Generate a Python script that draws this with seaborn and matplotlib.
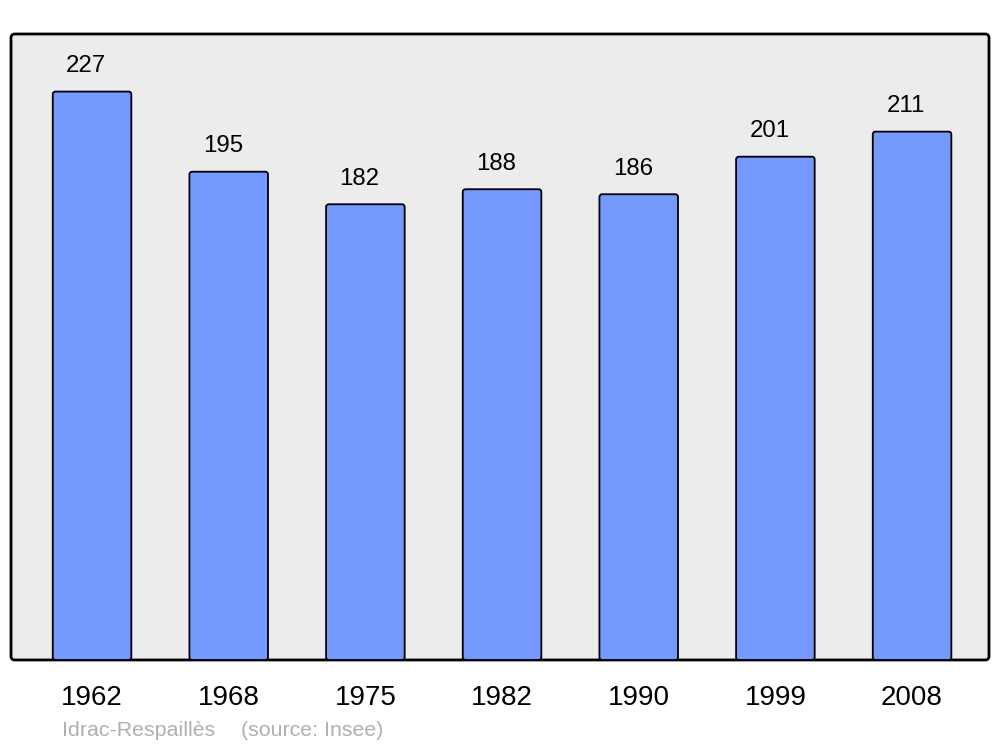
import matplotlib
matplotlib.use("Agg")
import matplotlib.pyplot as plt
import seaborn as sns
import pandas as pd
from matplotlib.patches import FancyBboxPatch

years = ["1962", "1968", "1975", "1982", "1990", "1999", "2008"]
population = [227, 195, 182, 188, 186, 201, 211]
caption_name = "Idrac-Respaillès"
caption_source = "(source: Insee)"

sns.set_theme(style="white")
plt.rcParams["font.family"] = ["Liberation Sans", "DejaVu Sans"]

df = pd.DataFrame({"year": years, "pop": population})

fig = plt.figure(figsize=(10, 7.47), dpi=100)
ax = fig.add_axes([0.011, 0.1165, 0.978, 0.838])
ax.set_facecolor("none")

# rounded frame (axes background + border)
frame = FancyBboxPatch((0, 0), 1, 1, transform=ax.transAxes,
                       boxstyle="round,pad=0,rounding_size=0.004",
                       mutation_aspect=978 / 626,
                       facecolor="#ececec", edgecolor="black", linewidth=2,
                       zorder=0, clip_on=False)
ax.add_patch(frame)

sns.barplot(data=df, x="year", y="pop", color="#7399ff", width=0.575,
            saturation=1, edgecolor="black", linewidth=1.3, ax=ax)

ax.set_xlim(-0.593, 6.563)
ax.set_ylim(0, 250)

# replace bars with rounded versions from their own geometry
aspect = (250 / 626) / (7.156 / 978)
for p in list(ax.patches):
    if p is frame:
        continue
    x, y, w, h = p.get_x(), p.get_y(), p.get_width(), p.get_height()
    fb = FancyBboxPatch((x, y), w, h,
                        boxstyle="round,pad=0,rounding_size=0.02",
                        mutation_aspect=aspect,
                        facecolor=p.get_facecolor(), edgecolor="black",
                        linewidth=1.3, zorder=2)
    p.remove()
    ax.add_patch(fb)

for i, v in enumerate(population):
    ax.annotate(str(v), (i, v), xytext=(-4.3, 18.3), textcoords="offset points",
                ha="center", va="center", fontsize=17.3, color="black")

ax.set_xlabel("")
ax.set_ylabel("")
ax.set_yticks([])
ax.tick_params(axis="x", length=0, pad=18, labelsize=20, colors="black")
for s in ax.spines.values():
    s.set_visible(False)

fig.text(0.062, 1 - 730 / 747, caption_name, fontsize=15.4, color="#b0b0b0",
         ha="left", va="center")
fig.text(0.241, 1 - 730 / 747, caption_source, fontsize=15.4, color="#b0b0b0",
         ha="left", va="center")

fig.savefig("out.png", dpi=100, facecolor="white")
